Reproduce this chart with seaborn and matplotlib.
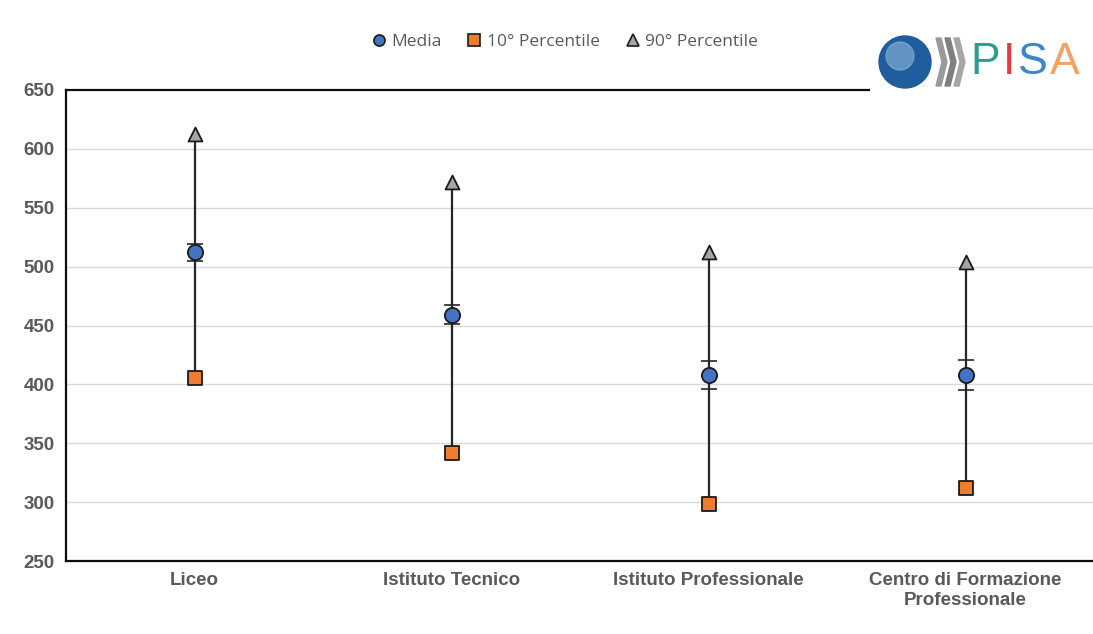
import pandas as pd
import matplotlib.pyplot as plt
import seaborn as sns
from matplotlib.lines import Line2D
from matplotlib.patches import Circle, Polygon

# values
categories = ['Liceo', 'Istituto Tecnico', 'Istituto Professionale',
              'Centro di Formazione\nProfessionale']
media = [512, 459, 408, 408]
media_err = [7, 8, 12, 13]
p10 = [405, 342, 298, 312]
p90 = [613, 572, 512, 504]
y_ticks = [250, 300, 350, 400, 450, 500, 550, 600, 650]

df = pd.DataFrame({'Categoria': categories * 3,
                   'Valore': media + p10 + p90,
                   'Serie': ['Media'] * 4 + ['10° Percentile'] * 4 + ['90° Percentile'] * 4})
df['x'] = df['Categoria'].map({c: i for i, c in enumerate(categories)})

sns.set_theme(style='white')
plt.rcParams['font.family'] = ['Liberation Sans Narrow', 'Liberation Sans', 'DejaVu Sans']

fig = plt.figure(figsize=(10.93, 6.34), dpi=100)
ax = fig.add_axes([66 / 1093, 73 / 634, 1028 / 1093, 471 / 634])

for y in y_ticks[1:-1]:
    ax.axhline(y, color='#d9d9d9', lw=1, zorder=0)

# range line 10th -> 90th percentile
xs = list(range(len(categories)))
ax.vlines(xs, p10, p90, color='#262626', lw=1.6, zorder=2)
ax.errorbar(xs, media, yerr=media_err, fmt='none', ecolor='#262626',
            elinewidth=1.4, capsize=6, capthick=1.2, zorder=2)

palette = {'Media': '#4472C4', '10° Percentile': '#ED7D31', '90° Percentile': '#A5A5A5'}
markers = {'Media': 'o', '10° Percentile': 's', '90° Percentile': '^'}
sizes = {'Media': 120, '10° Percentile': 110, '90° Percentile': 100}
for serie, sub in df.groupby('Serie'):
    sns.scatterplot(data=sub, x='x', y='Valore', color=palette[serie], marker=markers[serie],
                    s=sizes[serie], edgecolor='#1a1a1a', linewidth=1.3, ax=ax, zorder=3, legend=False)

ax.set_xlim(-0.5, 3.5)
ax.set_ylim(250, 650)
ax.set_yticks(y_ticks)
ax.set_xticks(xs)
ax.set_xticklabels(categories)
ax.tick_params(axis='both', labelsize=13.5, labelcolor='#595959', length=0, pad=8)
for lab in ax.get_xticklabels() + ax.get_yticklabels():
    lab.set_fontweight('bold')
ax.set_xlabel('')
ax.set_ylabel('')
for s in ['left', 'bottom', 'top']:
    ax.spines[s].set_color('#0d0d0d')
    ax.spines[s].set_linewidth(1.6)
ax.spines['right'].set_visible(False)

handles = [Line2D([], [], ls='none', marker=markers[k], markerfacecolor=palette[k],
                  markeredgecolor='#1a1a1a', markersize=8, markeredgewidth=1.2, label=k)
           for k in ['Media', '10° Percentile', '90° Percentile']]
fig.legend(handles=handles, loc='center', bbox_to_anchor=(563 / 1093, 1 - 42 / 634), ncol=3,
           frameon=False, handletextpad=0.1, columnspacing=1.3, handlelength=1.2,
           labelcolor='#595959', prop={'family': ['Open Sans', 'DejaVu Sans'], 'size': 12.5})

# PISA logo (approximation) on a white patch
lax = fig.add_axes([870 / 1093, 1 - 96 / 634, 223 / 1093, 66 / 634])
lax.set_xlim(0, 223)
lax.set_ylim(0, 66)
lax.axis('off')
lax.add_patch(plt.Rectangle((0, 0), 223, 66, color='white', zorder=0))
lax.add_patch(Circle((35, 34), 26, color='#1f5d9c', zorder=1))
lax.add_patch(Circle((30, 40), 14, color='#8fb8da', alpha=0.6, zorder=2))
for dx, col in [(66, '#9a9a9a'), (75, '#7f7f7f'), (84, '#a6a6a6')]:
    lax.add_patch(Polygon([[dx, 58], [dx + 5, 58], [dx + 11, 34], [dx + 5, 10], [dx, 10], [dx + 6, 34]],
                          color=col, zorder=1))
for ch, x, col in [('P', 100, '#2a9d8f'), ('I', 133, '#e63946'), ('S', 148, '#3a86c8'), ('A', 180, '#f4a261')]:
    lax.text(x, 33, ch, fontsize=32, color=col, va='center', ha='left',
             family=['Liberation Sans', 'DejaVu Sans'])

fig.savefig('out.png', dpi=100)
